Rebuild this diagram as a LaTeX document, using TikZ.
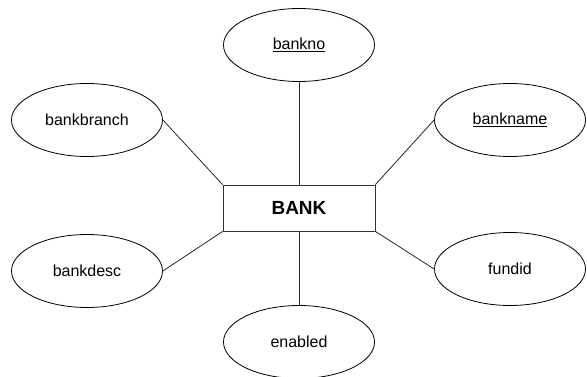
\documentclass[tikz,border=0pt]{standalone}
\usepackage{fontspec}
\setmainfont{Liberation Sans}
\usetikzlibrary{shapes.geometric}
\begin{document}
\begin{tikzpicture}[x=1pt,y=-1pt,
  attr/.style={draw, ellipse, line width=0.8pt, minimum width=151pt, minimum height=73pt, inner sep=0pt, font=\fontsize{16}{19}\selectfont},
  entity/.style={draw=black!80, rectangle, line width=0.9pt, minimum width=152pt, minimum height=46pt, inner sep=0pt, font=\fontsize{19}{22}\selectfont\bfseries},
  link/.style={line width=0.8pt, draw=black!85}]
\useasboundingbox (0,0) rectangle (587,377);
\node[entity] (bank) at (299,208) {BANK};
\node[attr] (bankno) at (299,45) {\underline{bankno}};
\node[attr] (bankbranch) at (87,120) {bankbranch};
\node[attr] (bankname) at (510,120) {\underline{bankname}};
\node[attr] (bankdesc) at (87,271) {bankdesc};
\node[attr] (fundid) at (510,269) {fundid};
\node[attr] (enabled) at (299,342) {enabled};
\draw[link] (bankno) -- (bank.north);
\draw[link] (bank.south) -- (enabled);
\draw[link] (bankbranch.east) -- (bank.north west);
\draw[link] (bankname.west) -- (bank.north east);
\draw[link] (bankdesc.east) -- (bank.south west);
\draw[link] (fundid.west) -- (bank.south east);
\end{tikzpicture}
\end{document}
